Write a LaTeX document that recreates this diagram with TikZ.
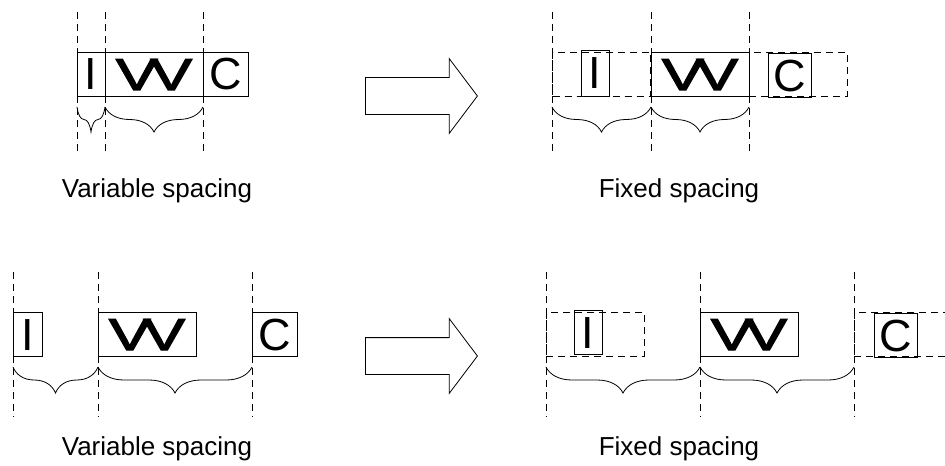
\documentclass[tikz,border=0pt]{standalone}
\usepackage{fontspec}
\setmainfont{Liberation Sans}
\newfontfamily\heavyV[FakeBold=2.4]{Liberation Sans}
\usetikzlibrary{positioning, shapes.arrows, decorations.pathreplacing}
\tikzset{
x=0.5pt, y=-0.5pt, % pixel grid of the figure
line width=1.1pt,
glyph/.style={inner sep=0pt, minimum height=22pt, text height=16pt, text depth=0pt, font=\fontsize{22.5}{24}\selectfont}, % a letter in its box
solidbox/.style={glyph, draw},
dashbox/.style={draw, dash pattern=on 3.5pt off 2.5pt, inner sep=0pt, minimum height=22pt, minimum width=49pt},
guide/.style={dash pattern=on 3.5pt off 2.5pt},
span/.style={decorate, decoration={brace, mirror, amplitude=#1}},
label/.style={font=\fontsize{13}{15}\selectfont},
bigarrow/.style={draw, single arrow, inner xsep=0pt, inner ysep=9pt, minimum height=56pt, single arrow head extend=9.5pt, single arrow tip angle=106, single arrow head indent=0pt},
}
\newcommand{\dblv}{\scalebox{1.4}[1]{\heavyV V\kern-0.12em V}}

\begin{document}
\begin{tikzpicture}
    \useasboundingbox (0,0) rectangle (945,465);

    % top row, variable spacing
    \draw[guide] (77,12) -- (77,155) (105,12) -- (105,155) (203,12) -- (203,155);
    \node[solidbox, minimum width=14pt] (tvI) at (91,74) {I};
    \node[solidbox, minimum width=49pt] (tvW) at (154,74) {\dblv};
    \node[solidbox, minimum width=22.5pt] (tvC) at (225.5,74) {C};
    \draw[span=12.5pt] (77,107) -- (105,107);
    \draw[span=12.5pt] (105,107) -- (203,107);
    \node[label] (tvLabel) at (157,191) {Variable spacing};

    \node[bigarrow, anchor=tail] (tArrow) at (365,96) {};

    % top row, fixed spacing
    \draw[guide] (552,12) -- (552,155) (651,12) -- (651,155) (749,12) -- (749,155);
    \node[dashbox] (tfCellI) at (601.5,74) {};
    \node[dashbox] (tfCellC) at (798,74) {};
    \node[solidbox, minimum width=14pt, minimum height=23pt] (tfI) at (595,73) {I};
    \node[solidbox, minimum width=49pt] (tfW) at (700,74) {\dblv};
    \node[solidbox, minimum width=21.5pt] (tfC) at (789.5,75.5) {C};
    \draw[span=12.5pt] (552,107) -- (651,107);
    \draw[span=12.5pt] (651,107) -- (749,107);
    \node[label] (tfLabel) at (679,191) {Fixed spacing};

    % bottom row, variable spacing
    \draw[guide] (13,272) -- (13,417) (98,272) -- (98,417) (252,272) -- (252,417);
    \node[solidbox, minimum width=14.5pt] (bvI) at (27.5,334) {I};
    \node[solidbox, minimum width=49pt] (bvW) at (147,334) {\dblv};
    \node[solidbox, minimum width=22.5pt] (bvC) at (274.5,334) {C};
    \draw[span=13pt] (13,367) -- (98,367);
    \draw[span=13pt] (98,367) -- (252,367);
    \node[label] (bvLabel) at (157,449) {Variable spacing};

    \node[bigarrow, anchor=tail] (bArrow) at (365,356) {};

    % bottom row, fixed spacing
    \draw[guide] (546,272) -- (546,417) (700,272) -- (700,417) (854,272) -- (854,417);
    \node[dashbox] (bfCellI) at (595,334) {};
    \node[dashbox] (bfCellC) at (903,334) {};
    \node[solidbox, minimum width=14pt] (bfI) at (588,332.5) {I};
    \node[solidbox, minimum width=49pt] (bfW) at (749,334) {\dblv};
    \node[solidbox, minimum width=21.5pt] (bfC) at (895.5,335.5) {C};
    \draw[span=13pt] (546,367) -- (700,367);
    \draw[span=13pt] (700,367) -- (854,367);
    \node[label] (bfLabel) at (679,449) {Fixed spacing};
\end{tikzpicture}
\end{document}
